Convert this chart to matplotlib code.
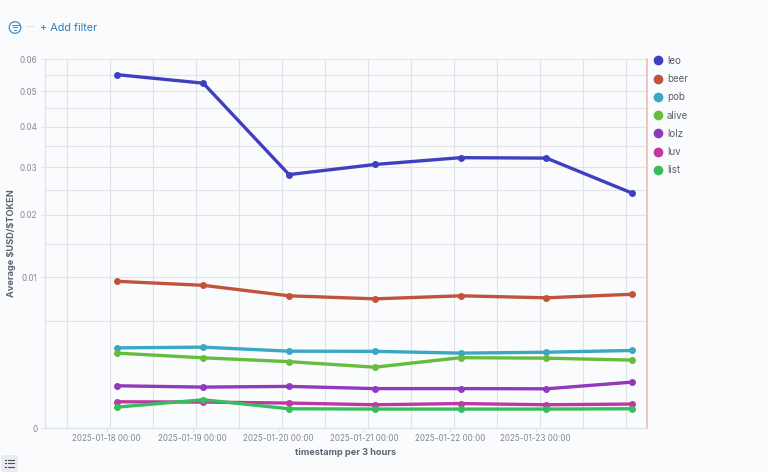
import numpy as np
import matplotlib.pyplot as plt
import matplotlib.dates as mdates
from matplotlib.lines import Line2D
from matplotlib.patches import Circle, FancyBboxPatch
from datetime import datetime, timedelta

plt.rcParams['font.family'] = ['Inter', 'DejaVu Sans']

BG = '#fafbfd'
W, H = 768, 473

start = datetime(2025, 1, 18, 3)
stamps = [start + timedelta(days=i) for i in range(7)]

names = ['leo', 'beer', 'pob', 'alive', 'lolz', 'luv', 'list']
colors = ['#3f40bf', '#c0533a', '#3ba7c0', '#66bc3c', '#9238bd', '#bf38a0', '#38bd5e']

leo = [0.0550, 0.0524, 0.0283, 0.0306, 0.0322, 0.0321, 0.0243]
beer = [0.00948, 0.00897, 0.00770, 0.00735, 0.00770, 0.00747, 0.00788]
pob = [0.00283, 0.00288, 0.00260, 0.00259, 0.00247, 0.00253, 0.00265]
alive = [0.00247, 0.00217, 0.00194, 0.00163, 0.00218, 0.00215, 0.00203]
lolz = [0.000785, 0.000737, 0.000763, 0.000684, 0.000684, 0.000677, 0.000928]
luv = [0.000303, 0.000296, 0.000274, 0.000238, 0.000263, 0.000238, 0.000253]
lst = [0.000193, 0.000351, 0.000163, 0.000158, 0.000158, 0.000158, 0.000163]
series = [leo, beer, pob, alive, lolz, luv, lst]

y_labelled = [0, 0.01, 0.02, 0.03, 0.04, 0.05, 0.06]
y_grid = [0.005, 0.015, 0.025, 0.035, 0.045, 0.055]
date_ticks = [datetime(2025, 1, d) for d in range(18, 24)]

fig = plt.figure(figsize=(W / 100, H / 100), dpi=100, facecolor=BG)
ax = fig.add_axes([45 / W, 1 - 428 / H, (647 - 45) / W, (428 - 59) / H], facecolor=BG)

ax.set_yscale('function', functions=(lambda v: np.sqrt(np.clip(v, 0, None)), lambda v: v ** 2))
ax.set_ylim(0, 0.06)
x0 = mdates.date2num(datetime(2025, 1, 18))
ax.set_xlim(x0 - 61.7 / 85.8, x0 + 540.3 / 85.8)

# vertical grid sits a little off the date ticks
grid_x = [x0 + (67 - 106.7 + 43 * i) / 85.8 for i in range(14)]
for gx in grid_x:
    ax.axvline(gx, color='#e0e2e8', lw=0.8, zorder=1)
for gy in y_labelled + y_grid:
    ax.axhline(gy, color='#e1e3e9', lw=0.8, zorder=1)

for vals, c in zip(series, colors):
    ax.plot(stamps, vals, color=c, lw=2.4, marker='o', ms=5, mew=0, zorder=3, clip_on=False,
            solid_joinstyle='round')

ax.set_yticks(y_labelled)
ax.set_yticklabels(['0', '0.01', '0.02', '0.03', '0.04', '0.05', '0.06'])
ax.set_xticks(mdates.date2num(date_ticks))
ax.set_xticklabels([d.strftime('%Y-%m-%d %H:%M') for d in date_ticks])
ax.tick_params(axis='both', length=3, width=0.8, color='#dfe2e9', labelcolor='#858893',
               labelsize=5.8, pad=1.5)
ax.tick_params(axis='y', length=3, pad=2.4)
ax.minorticks_off()
for s in ['top', 'right']:
    ax.spines[s].set_visible(False)
for s in ['left', 'bottom']:
    ax.spines[s].set_color('#dfe2e9')
    ax.spines[s].set_linewidth(0.9)
ax.axvline(ax.get_xlim()[1], color='#eeb9b4', lw=1.2, zorder=2, clip_on=False)

ax.set_xlabel('timestamp per 3 hours', fontsize=6.6, fontweight='bold', color='#5f6373', labelpad=3.5)
ax.set_ylabel(r'Average \$USD/\$TOKEN', fontsize=6.6, fontweight='bold', color='#5f6373')
ax.yaxis.set_label_coords(-29 / 602, 0.5)

handles = [Line2D([], [], ls='none', marker='o', ms=7, mew=0, color=c) for c in colors]
fig.legend(handles, names, loc='upper left', bbox_to_anchor=(645.5 / W, 1 - 48 / H), frameon=False,
           fontsize=7, labelcolor='#5a5d68', labelspacing=0.85, handlelength=1, handletextpad=0.4,
           borderpad=0.3)

# page chrome above and below the chart, in pixel coordinates
ui = fig.add_axes([0, 0, 1, 1], facecolor='none')
ui.set_xlim(0, W)
ui.set_ylim(H, 0)
ui.axis('off')
blue = '#3d8fc9'
ui.add_patch(Circle((15, 27.5), 5.8, fill=False, ec=blue, lw=0.9))
ui.plot([11.5, 18.5], [25, 25], color=blue, lw=0.7)
ui.plot([12.8, 17.2], [27.5, 27.5], color=blue, lw=0.7)
ui.plot([14, 16], [30, 30], color=blue, lw=0.7)
ui.plot([26, 33], [26.5, 26.5], color='#e3e6ec', lw=0.8)
ui.text(40, 28, '+ Add filter', fontsize=7.8, color='#2f7db8', va='center', ha='left')
ui.add_patch(FancyBboxPatch((1, 455), 17, 17, boxstyle='round,pad=0,rounding_size=2.5', fc='#e9ebf0', ec='none'))
for yy in (459.5, 463, 466.5):
    ui.plot([7.5, 14], [yy, yy], color='#4a4e5a', lw=0.8)
    ui.plot([4.5, 6], [yy, yy], color='#4a4e5a', lw=0.8)

fig.savefig('out.png', dpi=100, facecolor=BG)
